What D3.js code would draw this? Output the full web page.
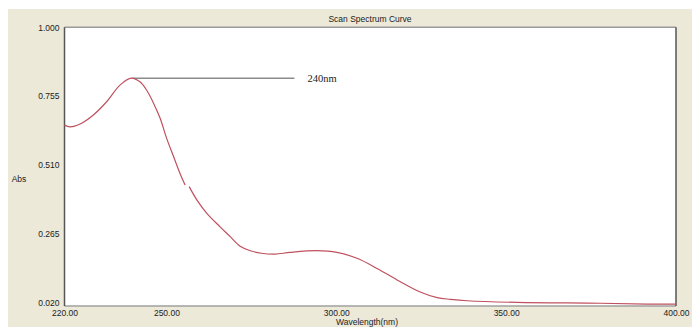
<!DOCTYPE html>
<html>
<head>
<meta charset="utf-8">
<script src="https://cdn.jsdelivr.net/npm/d3@7/dist/d3.min.js"></script>
<style>
  html, body { margin: 0; padding: 0; background: #ffffff; }
  svg { display: block; }
</style>
</head>
<body>
<svg id="chart" width="692" height="327"></svg>
<script>
// ---- data ---- (null marks the small gap in the recorded trace)
const wavelength = [220.0, 221.6, 224.6, 228.5, 232.4, 236.4, 239.7, 242.2, 244.2, 246.2, 248.1, 250.1, 252.1, 254.0, 255.5,
  256.1, 256.7, 259.0, 261.9, 265.8, 268.8, 271.7, 274.7, 278.0, 282.0, 286.4, 294.3, 300.2, 306.1, 312.0, 317.9,
  324.7, 329.7, 333.6, 338.5, 353.2, 377.8, 391.5, 400.0];
const absorbance = [0.652, 0.646, 0.656, 0.688, 0.735, 0.795, 0.819, 0.806, 0.776, 0.730, 0.678, 0.604, 0.540, 0.480, 0.439,
  null, 0.433, 0.385, 0.338, 0.290, 0.255, 0.221, 0.205, 0.196, 0.193, 0.199, 0.205, 0.199, 0.178, 0.142, 0.101,
  0.058, 0.038, 0.032, 0.027, 0.021, 0.018, 0.015, 0.015];
const yTicks = [0.020, 0.265, 0.510, 0.755, 1.000];
const xTicks = [220, 250, 300, 350, 400];
const peakWavelength = 240;
const peakAbs = 0.819;
const peakLabel = "240nm";
const title = "Scan Spectrum Curve";
const xTitle = "Wavelength(nm)";
const yTitle = "Abs";

// ---- layout ----
const svg = d3.select("#chart");
const L = 64.5, R = 676, T = 27.3, B = 302.7, frameB = 306;
const font = "'Liberation Sans', Arial, sans-serif";

svg.append("rect").attr("x", 8).attr("y", 9).attr("width", 684).attr("height", 318).attr("fill", "#ece9d8");

const x = d3.scaleLinear().domain([220, 400]).range([L, R]);
const y = d3.scaleLinear().domain([0.02, 1.0]).range([B, T]);

// plot frame
svg.append("rect").attr("x", L).attr("y", T).attr("width", R - L).attr("height", frameB - T).attr("fill", "#ffffff");
svg.append("line").attr("x1", L).attr("x2", R).attr("y1", T).attr("y2", T).attr("stroke", "#9a9a9a").attr("stroke-width", 1.5);
svg.append("line").attr("x1", L).attr("x2", R).attr("y1", frameB).attr("y2", frameB).attr("stroke", "#a0a0a0").attr("stroke-width", 1.5);
svg.append("line").attr("x1", L).attr("x2", L).attr("y1", T).attr("y2", frameB).attr("stroke", "#555555").attr("stroke-width", 1.5);
svg.append("line").attr("x1", R).attr("x2", R).attr("y1", T).attr("y2", frameB).attr("stroke", "#555555").attr("stroke-width", 1.5);

// title
svg.append("text").attr("x", 370).attr("y", 22).attr("text-anchor", "middle")
  .attr("font-family", font).attr("font-size", 8.5).attr("fill", "#222").text(title);

// y axis
const yAxis = d3.axisLeft(y).tickValues(yTicks).tickSize(0).tickPadding(5).tickFormat(d3.format(".3f"));
const gy = svg.append("g").attr("transform", `translate(${L},0)`).call(yAxis);
gy.select(".domain").remove();
gy.selectAll("text").attr("font-family", font).attr("font-size", 8.5).attr("fill", "#222");

// x axis
const xAxis = d3.axisBottom(x).tickValues(xTicks).tickSize(0).tickPadding(4).tickFormat(d3.format(".2f"));
const gx = svg.append("g").attr("transform", `translate(0,${frameB})`).call(xAxis);
gx.select(".domain").remove();
gx.selectAll("text").attr("font-family", font).attr("font-size", 8.5).attr("fill", "#222");

// axis titles
svg.append("text").attr("x", 367).attr("y", 325).attr("text-anchor", "middle")
  .attr("font-family", font).attr("font-size", 8.5).attr("fill", "#222").text(xTitle);
svg.append("text").attr("x", 19).attr("y", 182).attr("text-anchor", "middle")
  .attr("font-family", font).attr("font-size", 8.5).attr("fill", "#222").text(yTitle);

// peak annotation
svg.append("line").attr("x1", x(peakWavelength)).attr("x2", x(peakWavelength) + 162)
  .attr("y1", y(peakAbs)).attr("y2", y(peakAbs)).attr("stroke", "#8c8c8c").attr("stroke-width", 1.5);
svg.append("text").attr("x", x(peakWavelength) + 175).attr("y", y(peakAbs) + 4)
  .attr("font-family", "'Liberation Serif', 'Times New Roman', serif").attr("font-size", 10.5).attr("fill", "#222").text(peakLabel);

// curve
const pts = wavelength.map((w, i) => [w, absorbance[i]]);
const line = d3.line().defined(d => d[1] != null).x(d => x(d[0])).y(d => y(d[1])).curve(d3.curveCatmullRom.alpha(0.5));
svg.append("path").datum(pts).attr("d", line).attr("fill", "none")
  .attr("stroke", "#c0505e").attr("stroke-width", 1.2);
</script>
</body>
</html>
